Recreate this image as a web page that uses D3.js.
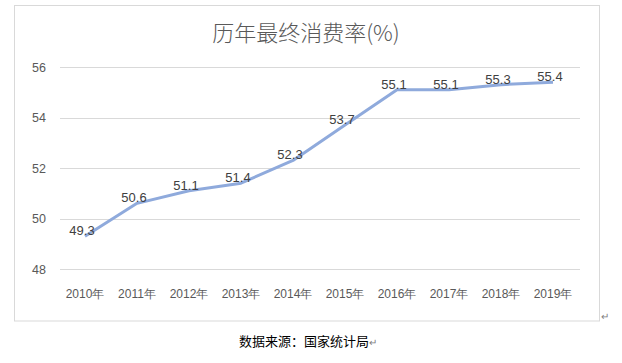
<!DOCTYPE html>
<html>
<head>
<meta charset="utf-8">
<script src="https://cdn.jsdelivr.net/npm/d3@7"></script>
<style>
body { margin: 0; background: #fff; }
svg { display: block; font-family: "Noto Sans CJK SC", "Liberation Sans", sans-serif; }
</style>
</head>
<body>
<svg id="chart" width="622" height="363"></svg>
<script>
var years = ["2010年", "2011年", "2012年", "2013年", "2014年", "2015年", "2016年", "2017年", "2018年", "2019年"];
var rates = [49.3, 50.6, 51.1, 51.4, 52.3, 53.7, 55.1, 55.1, 55.3, 55.4];
var yTicks = [48, 50, 52, 54, 56];

var svg = d3.select("#chart");

// chart frame
svg.append("rect")
	.attr("x", 14.5).attr("y", 5.5)
	.attr("width", 585).attr("height", 315.5)
	.attr("fill", "#fff")
	.attr("stroke", "#d9d9d9");

svg.append("text")
	.attr("x", 306).attr("y", 41)
	.attr("text-anchor", "middle")
	.attr("font-size", 22)
	.attr("font-weight", 300)
	.attr("fill", "#595959")
	.text("历年最终消费率(%)");

var x = d3.scaleBand().domain(years).range([59, 579]);
var y = d3.scaleLinear().domain([48, 56]).range([269, 67]);

// gridlines
svg.append("g")
	.selectAll("line")
	.data(yTicks)
	.enter().append("line")
	.attr("x1", 60).attr("x2", 580)
	.attr("y1", function (d) { return Math.round(y(d)) + 0.5; })
	.attr("y2", function (d) { return Math.round(y(d)) + 0.5; })
	.attr("stroke", "#d9d9d9");

var yAxis = svg.append("g")
	.attr("transform", "translate(60,0)")
	.call(d3.axisLeft(y).tickValues(yTicks).tickSize(0).tickPadding(14));
yAxis.select(".domain").remove();
yAxis.selectAll("text").attr("font-size", 12.5).attr("fill", "#595959")
	.attr("font-family", "Liberation Sans, sans-serif");

var xAxis = svg.append("g")
	.attr("transform", "translate(0,285)")
	.call(d3.axisBottom(x).tickSize(0).tickPadding(4));
xAxis.select(".domain").remove();
xAxis.selectAll("text").attr("font-size", 12).attr("fill", "#595959");

var cx = function (d, i) { return x(years[i]) + x.bandwidth() / 2; };

svg.append("path")
	.datum(rates)
	.attr("fill", "none")
	.attr("stroke", "#8faadc")
	.attr("stroke-width", 3)
	.attr("stroke-linejoin", "round")
	.attr("d", d3.line().x(cx).y(function (d) { return y(d); }));

svg.append("g")
	.selectAll("text")
	.data(rates)
	.enter().append("text")
	.attr("x", function (d, i) { return cx(d, i) - 3; })
	.attr("y", function (d) { return y(d) - 1; })
	.attr("text-anchor", "middle")
	.attr("font-size", 13)
	.attr("fill", "#404040")
	.attr("font-family", "Liberation Sans, sans-serif")
	.text(function (d) { return d.toFixed(1); });

svg.append("text")
	.attr("x", 601).attr("y", 320)
	.attr("font-size", 10)
	.attr("fill", "#808080")
	.text("↵");

svg.append("text")
	.attr("x", 304).attr("y", 346)
	.attr("text-anchor", "middle")
	.attr("font-size", 13)
	.attr("fill", "#000")
	.text("数据来源：国家统计局");
svg.append("text")
	.attr("x", 369).attr("y", 346)
	.attr("font-size", 10)
	.attr("fill", "#808080")
	.text("↵");
</script>
</body>
</html>
